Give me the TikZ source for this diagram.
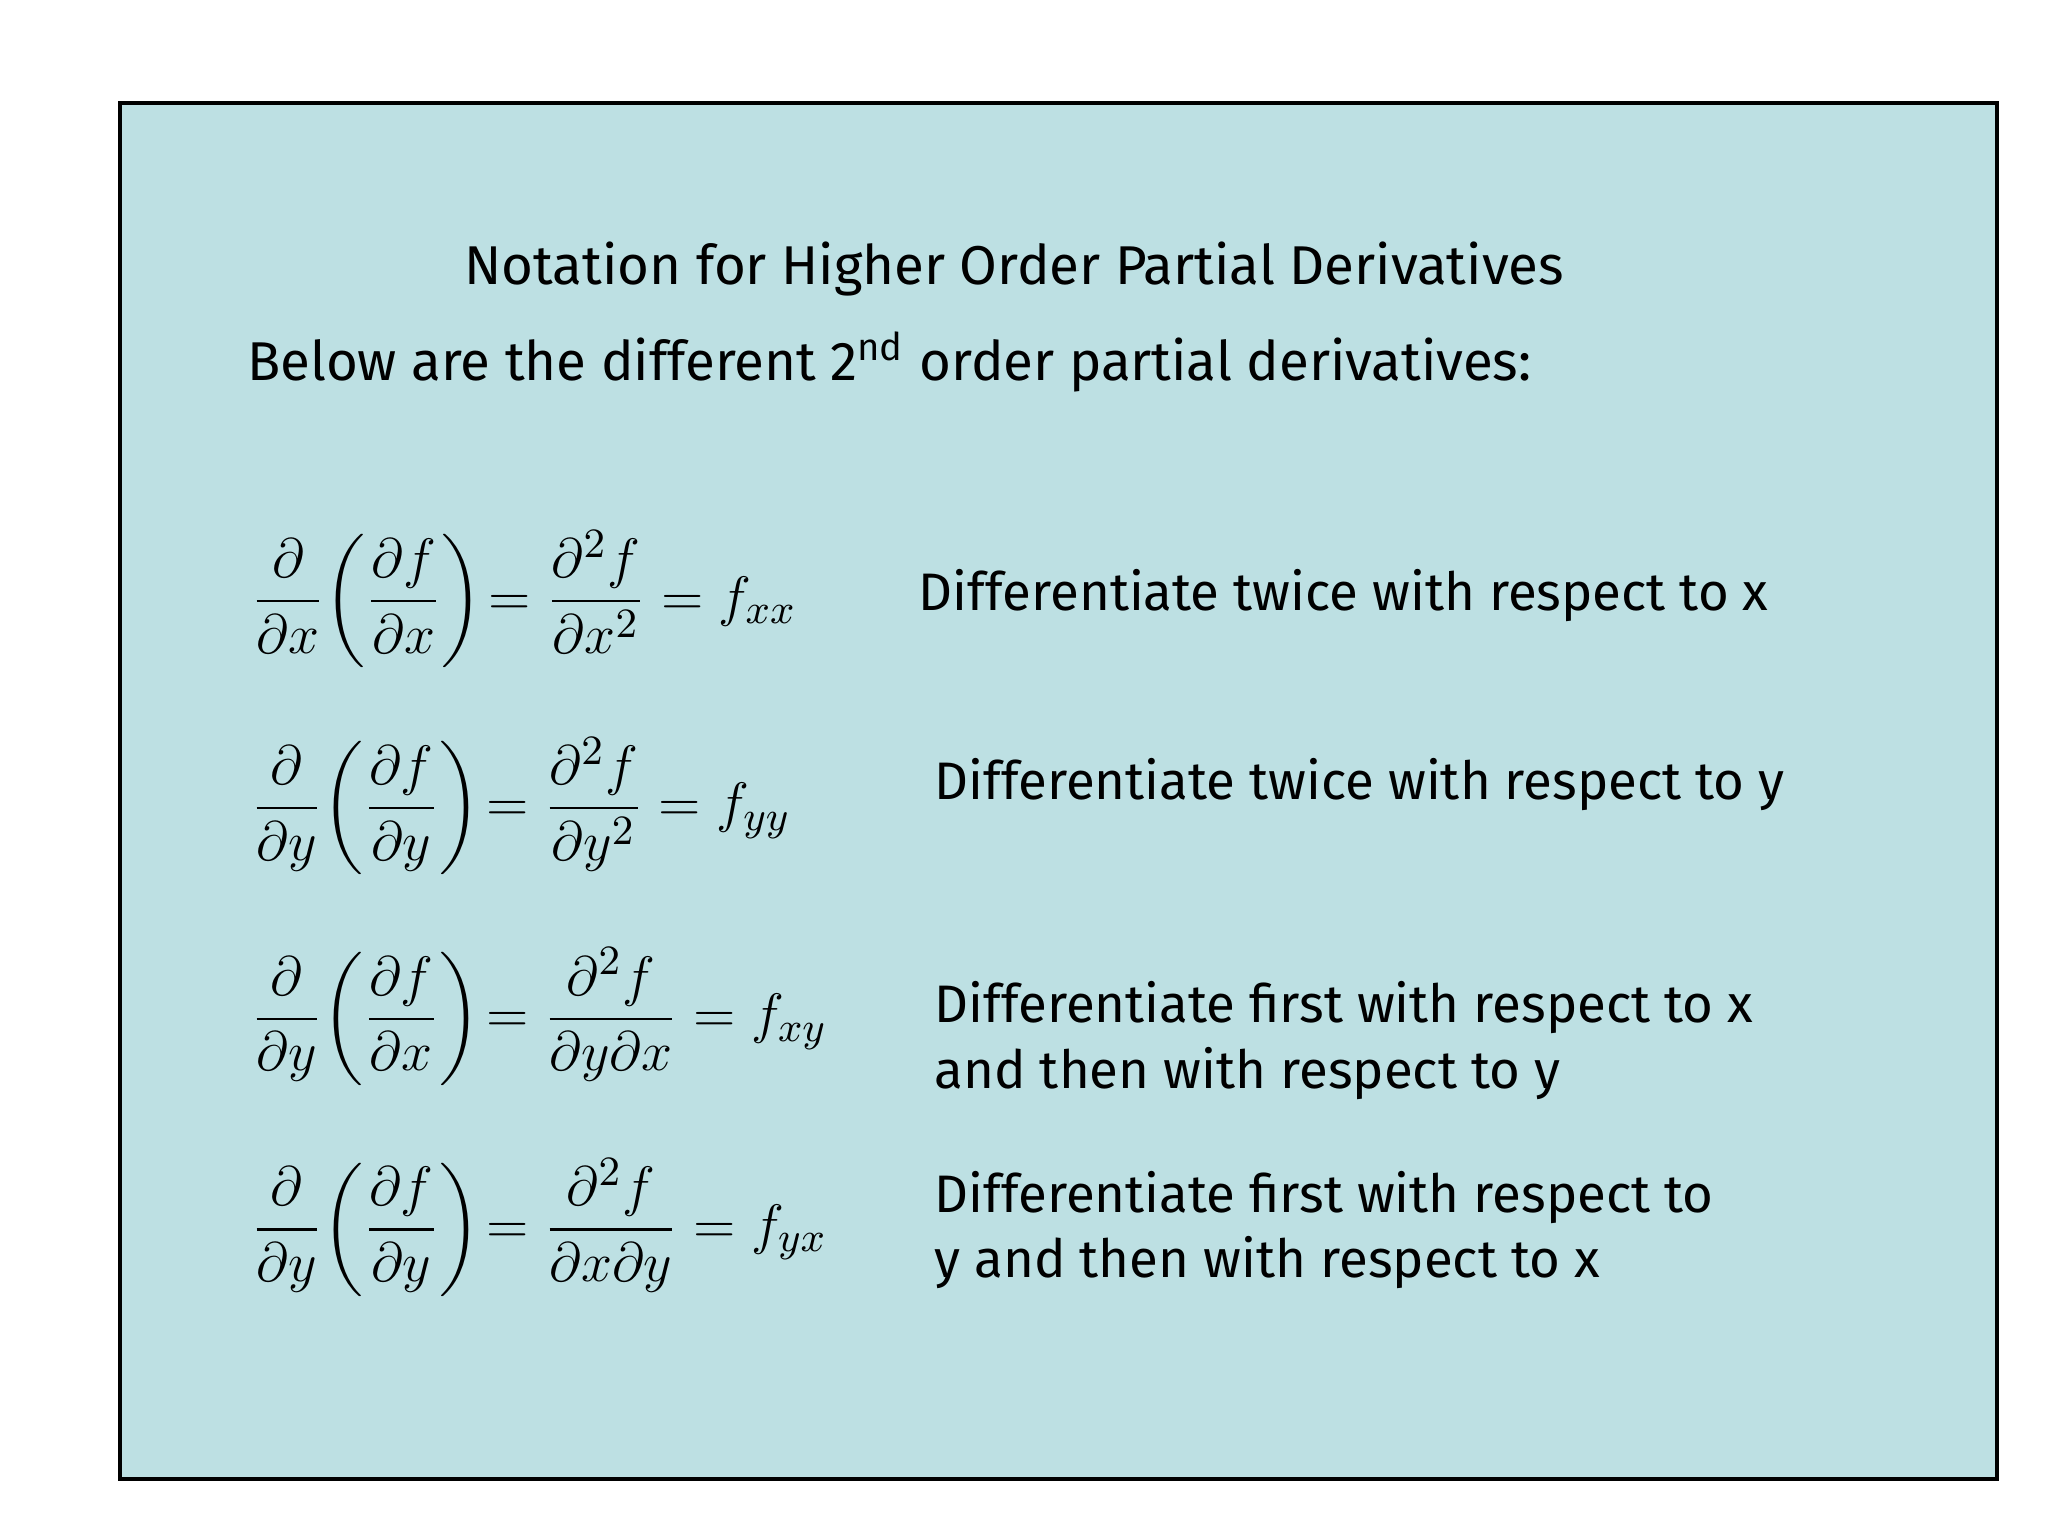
\documentclass[tikz,border=0pt]{standalone}
\usepackage{amsmath}
\usepackage{fontspec}
\setmainfont{Fira Sans}
\definecolor{bg}{HTML}{BDE0E3}
\tikzset{lbl/.style={anchor=west,font=\fontsize{11.4}{14.2}\selectfont,inner sep=0pt,align=left},
 eq/.style={anchor=west,font=\fontsize{12.5}{15}\selectfont,inner sep=0pt}}
\begin{document}
\begin{tikzpicture}[x=0.01cm,y=-0.01cm]
\useasboundingbox (0,0) rectangle (1555,1166);
\fill[white] (0,0) rectangle (1555,1166);
\draw[fill=bg,line width=0.8pt] (91,78) rectangle (1516,1123);
\node[font=\fontsize{11.8}{14}\selectfont] (title) at (770,204) {Notation for Higher Order Partial Derivatives};
\node[lbl,font=\fontsize{11.8}{14}\selectfont] (intro) at (187,275) {Below are the different 2\textsuperscript{nd} order partial derivatives:};
\node[eq] (e1) at (190,455) {$\dfrac{\partial}{\partial x}\!\left(\dfrac{\partial f}{\partial x}\right)\!=\dfrac{\partial^2 f}{\partial x^2}=f_{xx}$};
\node[eq] (e2) at (190,612) {$\dfrac{\partial}{\partial y}\!\left(\dfrac{\partial f}{\partial y}\right)\!=\dfrac{\partial^2 f}{\partial y^2}=f_{yy}$};
\node[eq] (e3) at (190,772) {$\dfrac{\partial}{\partial y}\!\left(\dfrac{\partial f}{\partial x}\right)\!=\dfrac{\partial^2 f}{\partial y\partial x}=f_{xy}$};
\node[eq] (e4) at (190,932) {$\dfrac{\partial}{\partial y}\!\left(\dfrac{\partial f}{\partial y}\right)\!=\dfrac{\partial^2 f}{\partial x\partial y}=f_{yx}$};
\node[lbl] (t1) at (697,452) {Differentiate twice with respect to x};
\node[lbl] (t2) at (709,596) {Differentiate twice with respect to y};
\node[lbl] (t3) at (709,790) {Differentiate first with respect to x\\and then with respect to y};
\node[lbl] (t4) at (709,934) {Differentiate first with respect to\\y and then with respect to x};
\end{tikzpicture}
\end{document}
